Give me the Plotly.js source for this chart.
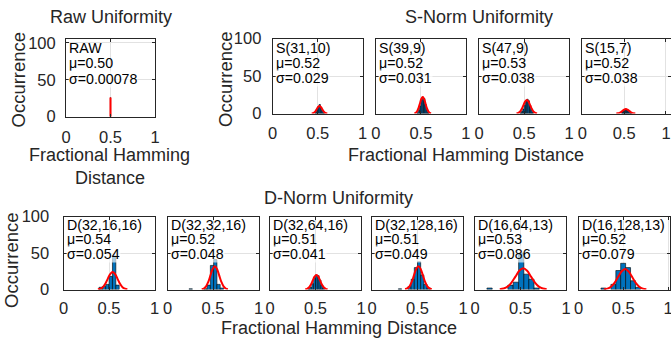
<!DOCTYPE html>
<html><head><meta charset="utf-8">
<script src="https://cdn.plot.ly/plotly-3.0.1.min.js"></script>
<style>html,body{margin:0;padding:0;background:#fff}#chart{width:671px;height:339px}</style>
</head><body><div id="chart"></div>
<script>
// ---------------- data ----------------
const panelNames = ['RAW','S(31,10)','S(39,9)','S(47,9)','S(15,7)','D(32,16,16)','D(32,32,16)','D(32,64,16)','D(32,128,16)','D(16,64,13)','D(16,128,13)'];
const panelMu = ['0.50','0.52','0.52','0.53','0.52','0.54','0.52','0.51','0.51','0.53','0.52'];
const panelSigma = ['0.00078','0.029','0.031','0.038','0.038','0.054','0.048','0.041','0.049','0.086','0.079'];
const xTickVals = [0, 0.5, 1];
const xTickText = ['0', '0.5', '1'];
const yTickVals = [0, 50, 100];
const yTickText = ['0', '50', '100'];
const binWidths = [0.002, 0.015, 0.015, 0.015, 0.015, 0.037, 0.036, 0.02, 0.035, 0.0575, 0.055];

const rawBins = [0.5];
const rawCounts = [26];
const rawFitX = [0.5, 0.5];
const rawFitY = [0, 26];

const s1Bins = [0.4775, 0.4925, 0.5075, 0.5225, 0.5375, 0.5525, 0.5675];
const s1Counts = [2, 6, 9, 12, 8, 4, 1];
const s1FitX = [0.433, 0.4475, 0.462, 0.4765, 0.491, 0.5055, 0.52, 0.5345, 0.549, 0.5635, 0.578, 0.5925, 0.607];
const s1FitY = [0.1, 0.4, 1.4, 3.3, 6.1, 8.8, 10, 8.8, 6.1, 3.3, 1.4, 0.4, 0.1];

const s2Bins = [0.4625, 0.4775, 0.4925, 0.5075, 0.5225, 0.5375, 0.5525, 0.5675, 0.5825];
const s2Counts = [1, 4, 10, 18, 22, 20, 12, 5, 1];
const s2FitX = [0.427, 0.4425, 0.458, 0.4735, 0.489, 0.5045, 0.52, 0.5355, 0.551, 0.5665, 0.582, 0.5975, 0.613];
const s2FitY = [0.2, 1, 3, 7.2, 13.4, 19.4, 22, 19.4, 13.4, 7.2, 3, 1, 0.2];

const s3Bins = [0.4625, 0.4775, 0.4925, 0.5075, 0.5225, 0.5375, 0.5525, 0.5675, 0.5825, 0.5975];
const s3Counts = [1, 3, 6, 11, 16, 19, 17, 11, 5, 2];
const s3FitX = [0.416, 0.435, 0.454, 0.473, 0.492, 0.511, 0.53, 0.549, 0.568, 0.587, 0.606, 0.625, 0.644];
const s3FitY = [0.2, 0.8, 2.4, 5.9, 10.9, 15.9, 18, 15.9, 10.9, 5.9, 2.4, 0.8, 0.2];

const s4Bins = [0.4775, 0.4925, 0.5075, 0.5225, 0.5375, 0.5525, 0.5675, 0.5825];
const s4Counts = [2, 3, 5, 6, 5, 4, 3, 1];
const s4FitX = [0.406, 0.425, 0.444, 0.463, 0.482, 0.501, 0.52, 0.539, 0.558, 0.577, 0.596, 0.615, 0.634];
const s4FitY = [0.1, 0.3, 0.8, 2, 3.6, 5.3, 6, 5.3, 3.6, 2, 0.8, 0.3, 0.1];

const d1Bins = [0.4085, 0.4455, 0.4825, 0.5195, 0.5565, 0.5935];
const d1Counts = [3, 4, 7, 18, 46, 6];
const d1FitX = [0.378, 0.405, 0.432, 0.459, 0.486, 0.513, 0.54, 0.567, 0.594, 0.621, 0.648, 0.675, 0.702];
const d1FitY = [0.3, 1.1, 3.2, 7.8, 14.6, 21.2, 24, 21.2, 14.6, 7.8, 3.2, 1.1, 0.3];

const d2Bins = [0.255, 0.417, 0.453, 0.489, 0.525, 0.561, 0.597];
const d2Counts = [1, 1, 6, 33, 41, 7, 2];
const d2FitX = [0.376, 0.4, 0.424, 0.448, 0.472, 0.496, 0.52, 0.544, 0.568, 0.592, 0.616, 0.64, 0.664];
const d2FitY = [0.4, 1.4, 4.3, 10.4, 19.4, 28.2, 32, 28.2, 19.4, 10.4, 4.3, 1.4, 0.4];

const d3Bins = [0.43, 0.45, 0.47, 0.49, 0.51, 0.53, 0.55, 0.57, 0.59];
const d3Counts = [1, 3, 8, 15, 20, 19, 13, 6, 2];
const d3FitX = [0.387, 0.4075, 0.428, 0.4485, 0.469, 0.4895, 0.51, 0.5305, 0.551, 0.5715, 0.592, 0.6125, 0.633];
const d3FitY = [0.2, 0.9, 2.7, 6.5, 12.1, 17.6, 20, 17.6, 12.1, 6.5, 2.7, 0.9, 0.2];

const d4Bins = [0.3075, 0.4125, 0.4475, 0.4825, 0.5175, 0.5525, 0.5875, 0.6225];
const d4Counts = [1, 4, 14, 30, 38, 20, 7, 2];
const d4FitX = [0.363, 0.3875, 0.412, 0.4365, 0.461, 0.4855, 0.51, 0.5345, 0.559, 0.5835, 0.608, 0.6325, 0.657];
const d4FitY = [0.4, 1.4, 4.3, 10.4, 19.4, 28.2, 32, 28.2, 19.4, 10.4, 4.3, 1.4, 0.4];

const d5Bins = [0.16, 0.39, 0.449, 0.508, 0.565, 0.62, 0.677];
const d5Counts = [2, 6, 10, 50, 21, 14, 2];
const d5FitX = [0.272, 0.315, 0.358, 0.401, 0.444, 0.487, 0.53, 0.573, 0.616, 0.659, 0.702, 0.745, 0.788];
const d5FitY = [0.3, 1.3, 3.9, 9.4, 17.6, 25.6, 29, 25.6, 17.6, 9.4, 3.9, 1.3, 0.3];

const d6Bins = [0.278, 0.389, 0.444, 0.498, 0.553, 0.608, 0.663];
const d6Counts = [2, 7, 26, 36, 30, 12, 3];
const d6FitX = [0.283, 0.3225, 0.362, 0.4015, 0.441, 0.4805, 0.52, 0.5595, 0.599, 0.6385, 0.678, 0.7175, 0.757];
const d6FitY = [0.3, 1.2, 3.8, 9.1, 17, 24.7, 28, 24.7, 17, 9.1, 3.8, 1.2, 0.3];

const allBins = [rawBins, s1Bins, s2Bins, s3Bins, s4Bins, d1Bins, d2Bins, d3Bins, d4Bins, d5Bins, d6Bins];
const allCounts = [rawCounts, s1Counts, s2Counts, s3Counts, s4Counts, d1Counts, d2Counts, d3Counts, d4Counts, d5Counts, d6Counts];
const allFitX = [rawFitX, s1FitX, s2FitX, s3FitX, s4FitX, d1FitX, d2FitX, d3FitX, d4FitX, d5FitX, d6FitX];
const allFitY = [rawFitY, s1FitY, s2FitY, s3FitY, s4FitY, d1FitY, d2FitY, d3FitY, d4FitY, d5FitY, d6FitY];

// ---------------- layout geometry (px) ----------------
const W = 671, H = 339;
const FONT = 'Liberation Sans, Arial, sans-serif';
const AX = '#262626';
const geom = [
  {l: 66, r: 155, t: 39.3, b: 116.7, yMax: 105, yLab: true, ys: 6, xs: 5, xMax: 1},
  {l: 272.7, r: 362.7, t: 38.5, b: 113.5, yMax: 100, yLab: true, ys: 7, xs: 5, xMax: 1},
  {l: 375.9, r: 465.9, t: 38.5, b: 113.5, yMax: 100, yLab: false, xs: 5, xMax: 1},
  {l: 479.1, r: 569.1, t: 38.5, b: 113.5, yMax: 100, yLab: false, xs: 5, xMax: 1},
  // right-most panel runs past the picture edge: extend its range so the "1" tick stays inside
  {l: 582.3, r: 671, t: 38.5, b: 113.5, yMax: 100, yLab: false, xs: 5, xMax: 1.06}
];
const bottomLefts = [63.5, 167.5, 270, 372, 475, 578.5];
bottomLefts.forEach((l, i) => geom.push({l: l, r: l + 91, t: 216.5, b: 289.5, yMax: 100, yLab: i === 0, ys: 10, xs: 4, xMax: i === 5 ? 1.015 : 1}));

const traces = [];
const layout = {
  width: W, height: H, margin: {l: 0, r: 0, t: 0, b: 0},
  paper_bgcolor: '#fff', plot_bgcolor: '#fff', showlegend: false,
  barmode: 'overlay', font: {family: FONT, color: AX},
  annotations: []
};

geom.forEach((g, i) => {
  const n = i === 0 ? '' : String(i + 1);
  const xa = 'x' + n, ya = 'y' + n;
  traces.push({
    type: 'bar', x: allBins[i], y: allCounts[i], width: binWidths[i],
    xaxis: xa, yaxis: ya,
    marker: {color: '#0072BD', line: {color: '#000', width: 0.6}},
    hoverinfo: 'skip'
  });
  traces.push({
    type: 'scatter', mode: 'lines', x: allFitX[i], y: allFitY[i],
    xaxis: xa, yaxis: ya,
    line: {color: '#ff0000', width: 2, shape: i === 0 ? 'linear' : 'spline', smoothing: 1},
    hoverinfo: 'skip', cliponaxis: true
  });
  const common = {
    showline: true, linecolor: AX, linewidth: 1, mirror: 'ticks',
    ticks: 'inside', ticklen: 3, tickcolor: AX, tickwidth: 1,
    showgrid: true, gridcolor: '#e2e2e2', gridwidth: 1, zeroline: false,
    tickfont: {family: FONT, size: 16.5, color: AX}, fixedrange: true
  };
  layout['xaxis' + n] = Object.assign({}, common, {
    domain: [g.l / W, Math.min(1, g.r / W)], range: [0, g.xMax], anchor: ya,
    tickmode: 'array', tickvals: xTickVals, ticktext: xTickText,
    ticklabelstandoff: g.xs, ticklabeloverflow: 'allow'
  });
  layout['yaxis' + n] = Object.assign({}, common, {
    domain: [1 - g.b / H, 1 - g.t / H], range: [0, g.yMax], anchor: xa,
    tickmode: 'array', tickvals: yTickVals, ticktext: yTickText,
    showticklabels: g.yLab, ticklabelstandoff: g.ys || 0
  });
  const lines = [panelNames[i], '\u03bc=' + panelMu[i], '\u03c3=' + panelSigma[i]];
  const offs = i < 5 ? [9, 24, 39.5] : [8.5, 23, 37.5];
  lines.forEach((t, k) => {
    layout.annotations.push({
      text: t, xref: xa + ' domain', yref: ya + ' domain', x: 0, y: 1,
      xanchor: 'left', yanchor: 'middle', xshift: 2, yshift: -offs[k],
      showarrow: false, bgcolor: k === 2 ? 'rgba(255,255,255,0.65)' : 'rgba(255,255,255,0)', borderpad: 0,
      font: {family: FONT, size: 14.2, color: '#000'}
    });
  });
});

function label(text, px, py, size, angle) {
  layout.annotations.push({
    text: text, xref: 'paper', yref: 'paper', x: px / W, y: 1 - py / H,
    xanchor: 'center', yanchor: 'middle', showarrow: false, textangle: angle || 0,
    font: {family: FONT, size: size, color: AX}
  });
}
label('Raw Uniformity', 110.5, 17, 18);
label('S-Norm Uniformity', 478.7, 17, 18);
label('D-Norm Uniformity', 338.3, 198, 18);
label('Fractional Hamming', 110, 155, 18);
label('Distance', 110, 178, 18);
label('Fractional Hamming Distance', 466, 155, 18);
label('Fractional Hamming Distance', 338.5, 328, 18);
label('Occurrence', 18, 79.5, 18.5, -90);
label('Occurrence', 225, 79, 18.5, -90);
label('Occurrence', 11, 260, 18.5, -90);

Plotly.newPlot('chart', traces, layout, {staticPlot: true, displayModeBar: false});
</script>
</body></html>
